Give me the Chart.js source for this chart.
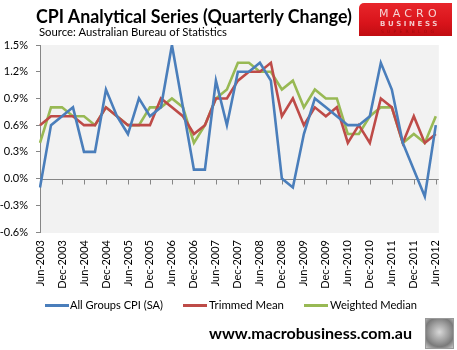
<!DOCTYPE html>
<html>
<head>
<meta charset="utf-8">
<script src="https://cdn.jsdelivr.net/npm/chart.js@4/dist/chart.umd.min.js"></script>
<style>
  html, body { margin:0; padding:0; background:#fff; }
  body { width:457px; height:350px; position:relative; overflow:hidden; font-family: Lato, "Open Sans", sans-serif; }
  #c { position:absolute; left:0; top:0; }
  .fit { position:absolute; white-space:nowrap; transform-origin:0 50%; line-height:1; }
  #title { left:36px; top:6px; font-size:19px; font-weight:bold; color:#000; }
  #source { left:39px; top:26px; font-size:12px; color:#000; }
  #url { left:209px; top:325px; font-size:16px; font-weight:bold; color:#000; }
  .lg-line { position:absolute; height:3px; top:304px; }
  .lg-text { top:299px; font-size:12px; color:#000; }
  #logo { position:absolute; left:359px; top:3px; width:93px; height:33px; border-radius:5px 0 0 0;
          background:linear-gradient(180deg,#e8262b 0%,#d9141b 60%,#c10d12 100%); }
  #logo .l1 { position:absolute; left:20px; top:4px; font-size:11px; letter-spacing:4.2px; color:#f6d4d4; font-family:"DejaVu Sans", sans-serif; }
  #logo .l2 { position:absolute; left:21px; top:17px; font-size:7px; font-weight:bold; letter-spacing:2.6px; color:#f3c9c9; font-family:"DejaVu Sans", sans-serif; }
  #logo .l3 { position:absolute; left:22px; top:26px; font-size:4.5px; letter-spacing:3.2px; color:#a30a0e; font-family:"DejaVu Sans", sans-serif; }
  #wolf { position:absolute; left:425px; top:318px; width:27px; height:29px; border:1px solid #9a9a9a;
          background: radial-gradient(circle at 50% 45%, #d8d8d8 0%, #9d9d9d 45%, #7a7a7a 70%, #c8c8c8 100%); }
</style>
</head>
<body>
<canvas id="c" width="457" height="350"></canvas>
<div id="title" class="fit" data-w="316">CPI Analytical Series (Quarterly Change)</div>
<div id="source" class="fit" data-w="188">Source: Australian Bureau of Statistics</div>
<div id="logo"><span class="l1">MACRO</span><span class="l2">BUSINESS</span><span class="l3">SUPERBLOG</span></div>
<div id="legend"></div>
<div id="url" class="fit" data-w="203">www.macrobusiness.com.au</div>
<div id="wolf"></div>
<script>
// ---- Data ----
const categories = [
  "Jun-2003","Sep-2003","Dec-2003","Mar-2004","Jun-2004","Sep-2004","Dec-2004","Mar-2005",
  "Jun-2005","Sep-2005","Dec-2005","Mar-2006","Jun-2006","Sep-2006","Dec-2006","Mar-2007",
  "Jun-2007","Sep-2007","Dec-2007","Mar-2008","Jun-2008","Sep-2008","Dec-2008","Mar-2009",
  "Jun-2009","Sep-2009","Dec-2009","Mar-2010","Jun-2010","Sep-2010","Dec-2010","Mar-2011",
  "Jun-2011","Sep-2011","Dec-2011","Mar-2012","Jun-2012"
];
const allGroupsCPI = [
  -0.1, 0.6, 0.7, 0.8, 0.3, 0.3, 1.0, 0.7, 0.5, 0.9, 0.7, 0.8, 1.5, 0.8, 0.1, 0.1,
  1.1, 0.6, 1.2, 1.2, 1.3, 1.1, 0.0, -0.1, 0.5, 0.9, 0.8, 0.7, 0.6, 0.6, 0.7, 1.3,
  1.0, 0.4, 0.1, -0.2, 0.6
];
const trimmedMean = [
  0.6, 0.7, 0.7, 0.7, 0.6, 0.6, 0.8, 0.7, 0.6, 0.6, 0.6, 0.9, 0.8, 0.7, 0.5, 0.6,
  0.9, 0.9, 1.1, 1.2, 1.2, 1.3, 0.7, 0.9, 0.6, 0.8, 0.7, 0.8, 0.4, 0.6, 0.4, 0.9,
  0.8, 0.4, 0.7, 0.4, 0.5
];
const weightedMedian = [
  0.4, 0.8, 0.8, 0.7, 0.7, 0.6, 0.8, 0.7, 0.6, 0.6, 0.8, 0.8, 0.9, 0.8, 0.4, 0.6,
  0.9, 1.0, 1.3, 1.3, 1.2, 1.2, 1.0, 1.1, 0.8, 1.0, 0.9, 0.9, 0.5, 0.5, 0.7, 0.8,
  0.8, 0.4, 0.5, 0.4, 0.7
];
const seriesNames = ["All Groups CPI (SA)", "Trimmed Mean", "Weighted Median"];
const yTickValues = [-0.6, -0.3, 0.0, 0.3, 0.6, 0.9, 1.2, 1.5];

// ---- styles ----
const colors = ["#4a7ebb", "#be4b48", "#98b954"];
const axisColor = "#868686";

const plotBg = {
  id: "plotBg",
  beforeDraw(chart) {
    const a = chart.chartArea, ctx = chart.ctx;
    ctx.save();
    ctx.fillStyle = "#f2f2f2";
    ctx.fillRect(a.left, a.top, a.right - a.left + 3, a.bottom - a.top + 1);
    ctx.restore();
  },
  beforeDatasetsDraw(chart) {
    const a = chart.chartArea, ctx = chart.ctx;
    const xs = chart.scales.x, ys = chart.scales.y;
    const y0 = Math.round(ys.getPixelForValue(0)) + 0.5;
    ctx.save();
    ctx.strokeStyle = axisColor;
    ctx.lineWidth = 1;
    ctx.beginPath();
    ctx.moveTo(a.left, y0);
    ctx.lineTo(a.right + 3, y0);
    categories.forEach((c, i) => {
      if (i % 2 === 0 && i > 0) {
        const x = Math.round(xs.getPixelForValue(i)) + 0.5;
        ctx.moveTo(x, y0);
        ctx.lineTo(x, y0 + 5);
      }
    });
    ctx.stroke();
    ctx.restore();
  }
};

new Chart(document.getElementById("c"), {
  type: "line",
  data: {
    labels: categories,
    datasets: [allGroupsCPI, trimmedMean, weightedMedian].map((d, k) => ({
      label: seriesNames[k],
      data: d,
      borderColor: colors[k],
      backgroundColor: colors[k],
      borderWidth: 2.6,
      pointRadius: 0,
      tension: 0,
      fill: false
    }))
  },
  options: {
    responsive: false,
    animation: false,
    devicePixelRatio: 1,
    layout: { padding: { top: 45, left: 0, right: 15, bottom: 0 } },
    plugins: { legend: { display: false }, tooltip: { enabled: false } },
    scales: {
      x: {
        type: "category",
        offset: false,
        grid: { display: false, drawTicks: false },
        border: { display: false },
        ticks: {
          autoSkip: false, maxRotation: 90, minRotation: 90, padding: 8,
          color: "#000", font: { family: "Lato", size: 11 },
          callback: (v, i) => (i % 2 === 0 ? categories[i] : "")
        },
        afterFit(s) { s.height = 118; }
      },
      y: {
        min: -0.6, max: 1.5,
        grid: { drawOnChartArea: false, drawTicks: true, tickLength: 4, color: axisColor },
        border: { color: axisColor, width: 1 },
        ticks: {
          padding: 8, color: "#000", font: { family: "Lato", size: 11 },
          callback: v => Number(v).toFixed(1) + "%"
        },
        afterBuildTicks(s) { s.ticks = yTickValues.map(v => ({ value: v })); },
        afterFit(s) { s.width = 40; }
      }
    }
  },
  plugins: [plotBg]
});

// ---- HTML legend ----
const legendPos = [[45, 70, 93], [183, 209, 75], [304, 330, 87]];
const lg = document.getElementById("legend");
seriesNames.forEach((n, k) => {
  const line = document.createElement("div");
  line.className = "lg-line";
  line.style.left = legendPos[k][0] + "px";
  line.style.width = "24px";
  line.style.background = colors[k];
  lg.appendChild(line);
  const t = document.createElement("div");
  t.className = "fit lg-text";
  t.style.left = legendPos[k][1] + "px";
  t.dataset.w = legendPos[k][2];
  t.textContent = n;
  lg.appendChild(t);
});

// fit text widths
document.querySelectorAll(".fit").forEach(el => {
  const w = el.getBoundingClientRect().width;
  const target = parseFloat(el.dataset.w);
  if (w > 0 && target) el.style.transform = "scaleX(" + (target / w).toFixed(3) + ")";
});
</script>
</body>
</html>
